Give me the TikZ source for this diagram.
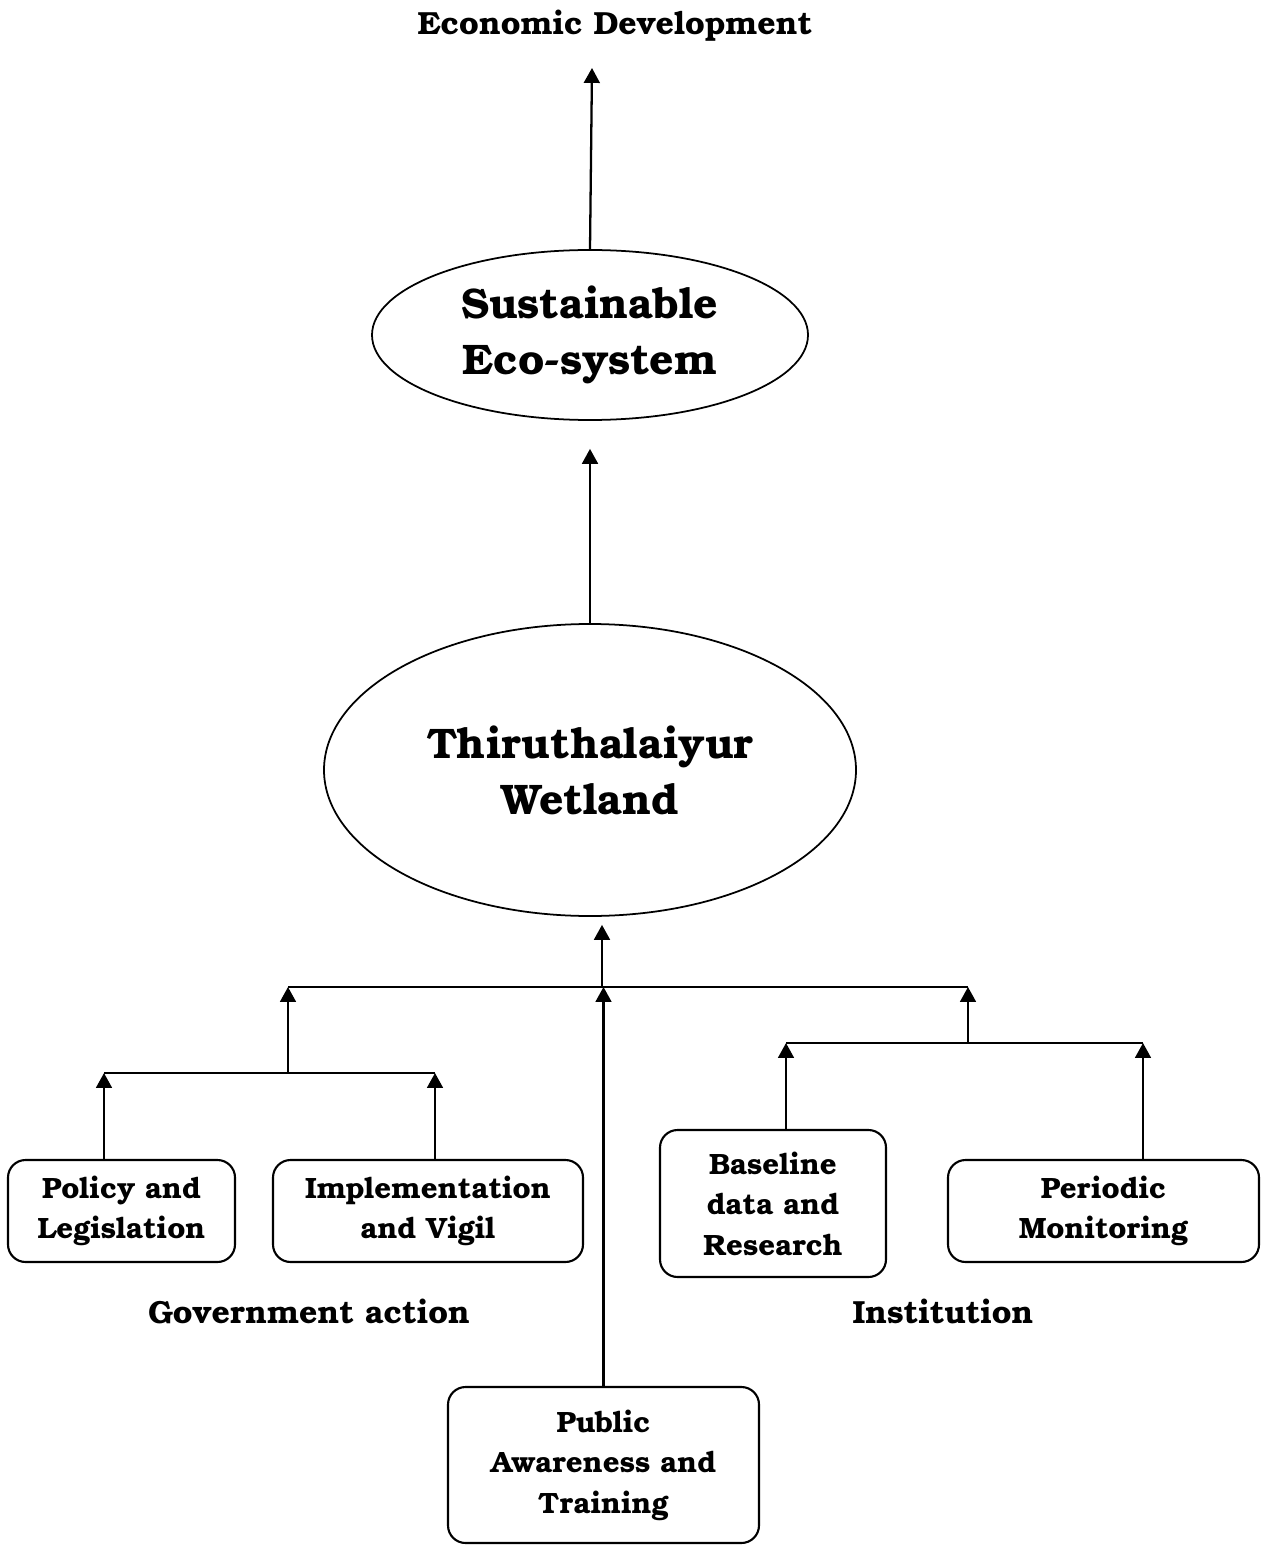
\documentclass[tikz,border=0pt]{standalone}
\usepackage{fontspec}
\setmainfont{TeX Gyre Bonum}
\usetikzlibrary{positioning}
\usetikzlibrary{shapes.geometric,arrows.meta}

\tikzset{
  arr/.style={line width=1.3pt,-{Triangle[width=9pt,length=8.5pt]}},
  bar/.style={line width=1.3pt},
  oval/.style={ellipse,draw,line width=1pt,inner sep=0pt,align=center},
  box/.style={draw,line width=1.2pt,rounded corners=10pt,align=center,
    font=\bfseries\fontsize{16.7}{23}\selectfont},
  lbl/.style={font=\bfseries\fontsize{18.2}{20}\selectfont}
}

\begin{document}
\begin{tikzpicture}
 \useasboundingbox (0,0) rectangle (25.28,-30.9);
 % top of the chart
 \node[lbl] (econ) at (12.30,-0.52) {Economic Development};
 \node[oval,minimum width=8.72cm,minimum height=3.4cm,
   font=\bfseries\fontsize{24.3}{32}\selectfont] (eco) at (11.80,-6.70) {Sustainable\\Eco-system};
 \node[oval,minimum width=10.64cm,minimum height=5.84cm,
   font=\bfseries\fontsize{24.3}{32}\selectfont] (wet) at (11.80,-15.40) {Thiruthalaiyur\\Wetland};
 \coordinate (econtip) at (11.84,-1.36);
 \draw[arr] (eco.north) -- (econtip);
 \draw[arr] (wet.north) -- ([yshift=-0.56cm]eco.south);

 % boxes
 \node[box,minimum width=4.54cm,minimum height=2.04cm] (policy) at (2.43,-24.22) {Policy and\\Legislation};
 \node[box,minimum width=6.2cm,minimum height=2.04cm] (impl) at (8.56,-24.22) {Implementation\\and Vigil};
 \node[box,minimum width=4.52cm,minimum height=2.94cm] (base) at (15.46,-24.07) {Baseline\\data and\\Research};
 \node[box,minimum width=6.22cm,minimum height=2.04cm] (period) at (22.07,-24.22) {Periodic\\Monitoring};
 \node[box,minimum width=6.22cm,minimum height=3.12cm] (public) at (12.07,-29.30) {Public\\Awareness and\\Training};
 \node[lbl] (govlbl) at (6.18,-26.22) {Government action};
 \node[lbl] (instlbl) at (18.86,-26.22) {Institution};

 % bars
 \coordinate (hub) at (12.04,-19.74);
 \coordinate (gov) at (5.76,-19.74);
 \coordinate (inst) at (19.36,-19.74);
 \coordinate (govbar) at (5.76,-21.46);
 \coordinate (instbar) at (19.36,-20.86);
 \coordinate (p1) at (2.08,-21.46);
 \coordinate (p2) at (8.70,-21.46);
 \coordinate (p3) at (15.72,-20.86);
 \coordinate (p4) at (22.86,-20.86);
 \draw[arr] (hub) -- ([yshift=-0.16cm]hub |- wet.south);
 \draw[bar] (gov) -- (inst);
 \draw[arr] (govbar) -- (gov);
 \draw[arr] (instbar) -- (inst);
 \draw[bar] (p1) -- (p2);
 \draw[bar] (p3) -- (p4);
 \draw[arr] (p1 |- policy.north) -- (p1);
 \draw[arr] (p2 |- impl.north) -- (p2);
 \draw[arr] (p3 |- base.north) -- (p3);
 \draw[arr] (p4 |- period.north) -- (p4);
 \draw[arr] (public.north) -- (public.north |- hub);
\end{tikzpicture}
\end{document}
